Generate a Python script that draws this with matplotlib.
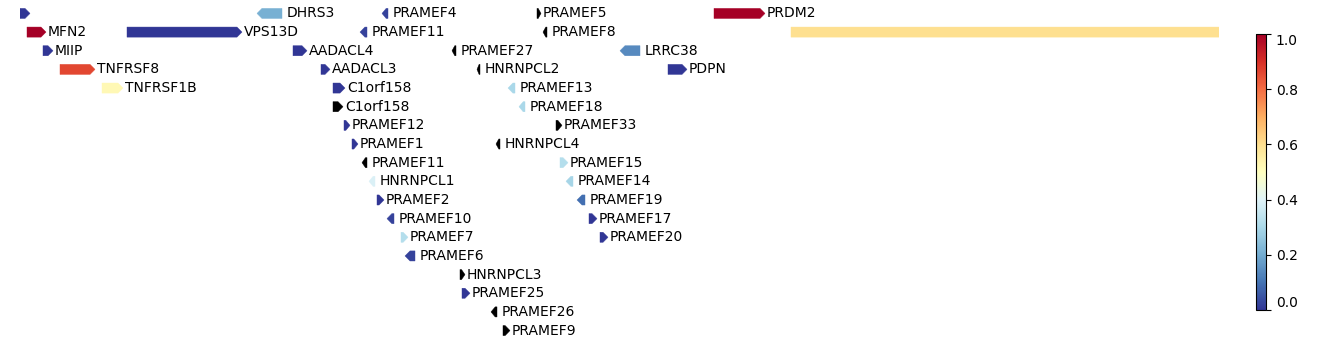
"""Gene track: arrows coloured by score, one track per row."""

import numpy as np
import matplotlib
matplotlib.use("Agg")
import matplotlib.pyplot as plt
from matplotlib.patches import Polygon
from matplotlib.colors import Normalize
from matplotlib.cm import ScalarMappable

# gene name, left / right extent (scaled genome units), strand, track row, score (nan = no score)
genes = ["", "DHRS3", "PRAMEF4", "PRAMEF5", "PRDM2",
         "MFN2", "VPS13D", "PRAMEF11", "PRAMEF8", "",
         "MIIP", "AADACL4", "PRAMEF27", "LRRC38",
         "TNFRSF8", "AADACL3", "HNRNPCL2", "PDPN",
         "TNFRSF1B", "C1orf158", "PRAMEF13",
         "C1orf158", "PRAMEF18",
         "PRAMEF12", "PRAMEF33",
         "PRAMEF1", "HNRNPCL4",
         "PRAMEF11", "PRAMEF15",
         "HNRNPCL1", "PRAMEF14",
         "PRAMEF2", "PRAMEF19",
         "PRAMEF10", "PRAMEF17",
         "PRAMEF7", "PRAMEF20",
         "PRAMEF6", "HNRNPCL3", "PRAMEF25", "PRAMEF26", "PRAMEF9"]
starts = [20, 257, 382, 537, 714,
          27, 127, 360, 543, 791,
          43, 293, 452, 620,
          60, 321, 477, 668,
          102, 333, 508,
          333, 519,
          344, 556,
          352, 496,
          362, 560,
          369, 566,
          377, 577,
          387, 589,
          401, 600,
          405, 460, 462, 491, 503]
ends = [30, 282, 388, 541, 765,
        46, 242, 367, 547, 1260,
        53, 307, 456, 640,
        95, 330, 480, 687,
        123, 345, 515,
        343, 525,
        350, 562,
        358, 500,
        367, 568,
        375, 573,
        384, 585,
        394, 597,
        408, 608,
        415, 465, 470, 497, 510]
strands = [1, -1, -1, 1, 1,
           1, 1, -1, -1, 1,
           1, 1, -1, -1,
           1, 1, -1, 1,
           1, 1, -1,
           1, -1,
           1, 1,
           1, -1,
           -1, 1,
           -1, -1,
           1, -1,
           -1, 1,
           1, 1,
           -1, 1, 1, -1, 1]
rows = [0, 0, 0, 0, 0,
        1, 1, 1, 1, 1,
        2, 2, 2, 2,
        3, 3, 3, 3,
        4, 4, 4,
        5, 5,
        6, 6,
        7, 7,
        8, 8,
        9, 9,
        10, 10,
        11, 11,
        12, 12,
        13, 14, 15, 16, 17]
nan = np.nan
scores = [0.0, 0.21, 0.02, nan, 1.0,
          1.0, 0.0, 0.02, nan, 0.6,
          0.0, 0.0, nan, 0.14,
          0.86, 0.0, nan, 0.0,
          0.52, 0.0, 0.3,
          nan, 0.3,
          0.0, nan,
          0.0, nan,
          nan, 0.32,
          0.39, 0.29,
          0.0, 0.09,
          0.02, 0.0,
          0.32, 0.0,
          0.02, nan, 0.0, nan, nan]

cmap = plt.get_cmap("RdYlBu_r")
norm = Normalize(vmin=0.0, vmax=1.0)

fig = plt.figure(figsize=(13.38, 3.44), dpi=100)
ax = fig.add_axes([20 / 1338, 0, 1199 / 1338, 1])
ax.set_xlim(20, 1219)
ax.set_ylim(17.72, -0.72)
ax.axis("off")

half = 0.27   # half arrow height in track units
head = 5.0    # arrow head length in genome units

for name, x0, x1, s, r, v in zip(genes, starts, ends, strands, rows, scores):
    color = "black" if np.isnan(v) else cmap(norm(v))
    h = min(head, 0.7 * (x1 - x0))
    if s > 0:
        pts = [(x0, r - half), (x1 - h, r - half), (x1, r),
               (x1 - h, r + half), (x0, r + half)]
        tx = x1 + 2.0
    else:
        pts = [(x1, r - half), (x0 + h, r - half), (x0, r),
               (x0 + h, r + half), (x1, r + half)]
        tx = x1 + 5.0
    ax.add_patch(Polygon(pts, closed=True, facecolor=color,
                         edgecolor=color, linewidth=0.3))
    if name:
        ax.text(tx, r, name, fontsize=10, va="center", ha="left")

cax = fig.add_axes([1256 / 1338, 34 / 344, 10 / 1338, 276 / 344])
cb = fig.colorbar(ScalarMappable(norm=norm, cmap=cmap), cax=cax)
cb.set_ticks([0.0, 0.2, 0.4, 0.6, 0.8, 1.0])
cb.ax.tick_params(labelsize=10)
labels = cb.ax.get_yticklabels()
labels[0].set_va("bottom")
labels[-1].set_va("top")

fig.savefig("out.png", dpi=100)
